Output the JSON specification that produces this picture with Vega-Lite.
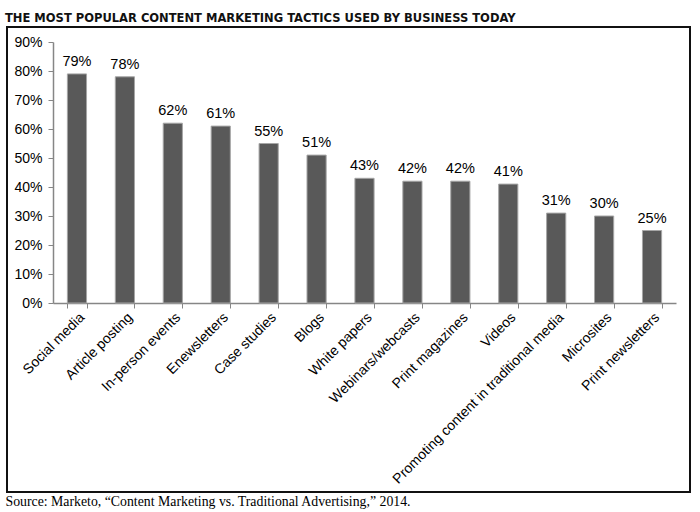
{
  "$schema": "https://vega.github.io/schema/vega-lite/v6.json",
  "width": 623,
  "height": 261,
  "autosize": "none",
  "padding": {"left": 53, "top": 42, "right": 24, "bottom": 209},
  "background": "white",
  "title": {
    "text": "THE MOST POPULAR CONTENT MARKETING TACTICS USED BY BUSINESS TODAY",
    "anchor": "start",
    "frame": "group",
    "baseline": "bottom",
    "font": "DejaVu Sans Condensed, DejaVu Sans",
    "fontSize": 12.8,
    "fontWeight": "bold",
    "color": "#111111",
    "dx": -48,
    "offset": -12
  },
  "data": {
    "values": [
      {"tactic": "Social media", "pct": 0.79},
      {"tactic": "Article posting", "pct": 0.78},
      {"tactic": "In-person events", "pct": 0.62},
      {"tactic": "Enewsletters", "pct": 0.61},
      {"tactic": "Case studies", "pct": 0.55},
      {"tactic": "Blogs", "pct": 0.51},
      {"tactic": "White papers", "pct": 0.43},
      {"tactic": "Webinars/webcasts", "pct": 0.42},
      {"tactic": "Print magazines", "pct": 0.42},
      {"tactic": "Videos", "pct": 0.41},
      {"tactic": "Promoting content in traditional media", "pct": 0.31},
      {"tactic": "Microsites", "pct": 0.30},
      {"tactic": "Print newsletters", "pct": 0.25}
    ]
  },
  "encoding": {
    "x": {
      "field": "tactic",
      "type": "nominal",
      "sort": null,
      "scale": {"paddingInner": 0.6, "paddingOuter": 0.3},
      "axis": {
        "title": "Source: Marketo, “Content Marketing vs. Traditional Advertising,” 2014.",
        "titleFont": "Liberation Serif",
        "titleFontSize": 13.8,
        "titleFontWeight": "normal",
        "titleColor": "#000000",
        "titleAnchor": "start",
        "titleAlign": "left",
        "titleBaseline": "alphabetic",
        "titleX": -48,
        "titleY": 202,
        "labelAngle": -45,
        "labelAlign": "right",
        "labelBaseline": "top",
        "labelFont": "Liberation Sans",
        "labelFontSize": 14,
        "labelColor": "#000000",
        "labelPadding": 2,
        "labelLimit": 400,
        "tickBand": "extent",
        "tickColor": "#868686",
        "tickSize": 5,
        "domainColor": "#868686",
        "domainWidth": 1.5,
        "grid": false
      }
    },
    "y": {
      "field": "pct",
      "type": "quantitative",
      "scale": {"domain": [0, 0.9], "nice": false},
      "axis": {
        "title": null,
        "values": [0, 0.1, 0.2, 0.3, 0.4, 0.5, 0.6, 0.7, 0.8, 0.9],
        "format": ".0%",
        "labelFont": "Liberation Sans",
        "labelFontSize": 14,
        "labelColor": "#000000",
        "labelPadding": 6,
        "tickColor": "#868686",
        "tickSize": 5,
        "domainColor": "#868686",
        "domainWidth": 1.5,
        "grid": false
      }
    }
  },
  "layer": [
    {
      "mark": {"type": "rect", "fill": null, "stroke": "#111111", "strokeWidth": 2, "clip": false},
      "encoding": {
        "x": {"value": -46},
        "x2": {"value": 637},
        "y": {"value": -15},
        "y2": {"value": 450}
      }
    },
    {
      "mark": {"type": "bar", "color": "#595959", "stroke": "#a6a6a6", "strokeWidth": 1}
    },
    {
      "mark": {"type": "text", "baseline": "alphabetic", "dy": -8, "font": "Liberation Sans", "fontSize": 14.5, "color": "#000000"},
      "encoding": {
        "text": {"field": "pct", "type": "quantitative", "format": ".0%"}
      }
    }
  ],
  "config": {"view": {"stroke": null}}
}
